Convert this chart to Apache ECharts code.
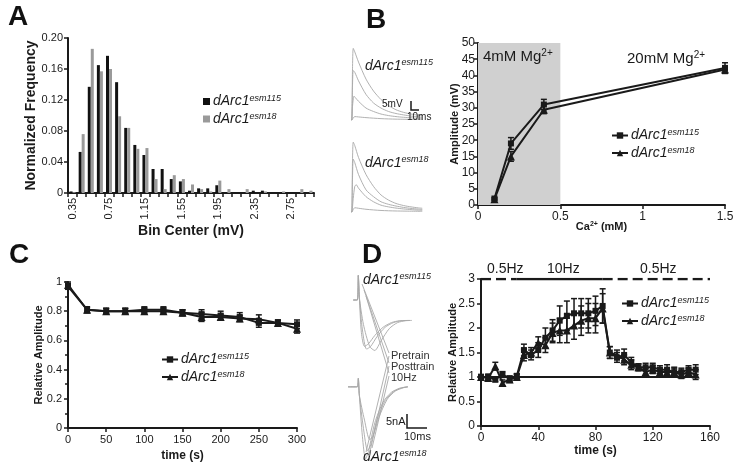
<!DOCTYPE html>
<html><head><meta charset="utf-8">
<script src="https://cdn.jsdelivr.net/npm/echarts@6/dist/echarts.min.js"></script>
<style>html,body{margin:0;padding:0;background:#fff}#c{width:745px;height:473px}</style>
</head><body><div id="c"></div>
<script>
// ---------- Panel A: amplitude histogram ----------
const binCenters = ['0.35','0.45','0.55','0.65','0.75','0.85','0.95','1.05','1.15','1.25','1.35','1.45','1.55','1.65','1.75','1.85','1.95','2.05','2.15','2.25','2.35','2.45','2.55','2.65','2.75','2.85','2.95'];
const histEsm115 = [0.002,0.053,0.137,0.165,0.177,0.143,0.084,0.062,0.049,0.031,0.031,0.018,0.015,0.003,0.006,0.006,0.010,0,0,0,0.003,0.003,0,0,0,0,0];
const histEsm18  = [0.001,0.076,0.186,0.157,0.160,0.099,0.084,0.057,0.058,0.018,0.005,0.023,0.018,0.011,0.005,0.002,0.016,0.005,0,0.005,0,0.002,0,0.002,0,0.005,0.003];

// ---------- Panel B: Ca2+ dependence ----------
const caConc = [0.1, 0.2, 0.4, 1.5];
const ampEsm115 = [2.0, 19.0, 31.0, 42.3];
const ampEsm115Err = [0.3, 1.8, 1.6, 1.6];
const ampEsm18 = [1.8, 15.0, 29.4, 41.8];
const ampEsm18Err = [0.3, 1.5, 1.2, 1.2];
// example EPSP traces [ms, mV]
const epspTop = [
  [[0,0],[1,0],[2,30],[3,42],[5,40],[10,34],[20,24],[30,17],[40,12],[50,8.5],[60,6],[70,4.5],[80,3.5],[90,2.8],[95,2.5]],
  [[0,0],[1,0],[2,20],[3,29],[5,28],[10,23],[20,15],[30,10],[40,7],[50,5],[60,3.8],[70,3],[80,2.3],[90,1.8],[95,1.6]],
  [[0,0],[1,0],[2,8],[4,14],[6,13],[10,11],[20,7],[30,5],[40,3.5],[50,2.6],[60,2],[70,1.6],[80,1.3],[90,1],[95,1]],
  [[0,0],[1,0],[3,1.2],[5,2],[10,1.8],[20,1.4],[40,0.8],[60,0.5],[95,0.3]]
];
const epspBottom = [
  [[0,0],[1,0],[2,30],[3,41],[5,39],[10,32],[20,22],[30,15],[40,10],[50,7],[60,5],[70,3.8],[80,3],[90,2.4],[95,2.2]],
  [[0,0],[1,0],[2,20],[3,31],[5,29],[10,22],[20,13],[30,9],[40,6],[50,4.5],[60,3.5],[70,2.7],[80,2.1],[90,1.7],[95,1.5]],
  [[0,0],[1,0],[3,8],[5,15],[7,16],[10,14],[20,9],[30,6],[40,4],[50,3],[60,2.3],[70,1.8],[80,1.4],[90,1.1],[95,1]],
  [[0,0],[1,0],[3,1.5],[5,2.5],[10,2.2],[20,1.6],[40,0.9],[60,0.6],[95,0.4]]
];

// ---------- Panel C: low-frequency rundown ----------
const timeC = [0,25,50,75,100,125,150,175,200,225,250,275,300];
const relEsm115 = [0.97,0.81,0.80,0.80,0.81,0.81,0.79,0.78,0.77,0.76,0.72,0.72,0.71];
const relEsm115Err = [0.02,0.02,0.02,0.02,0.02,0.02,0.02,0.03,0.03,0.03,0.03,0.02,0.03];
const relEsm18 = [0.98,0.81,0.80,0.80,0.80,0.80,0.79,0.76,0.76,0.75,0.745,0.72,0.68];
const relEsm18Err = [0.02,0.02,0.02,0.02,0.02,0.02,0.02,0.03,0.02,0.02,0.03,0.02,0.03];

// ---------- Panel D: 10 Hz train ----------
const timeD = [0,5,10,15,20,25,30,35,40,45,50,55,60,65,70,75,80,85,90,95,100,105,110,115,120,125,130,135,140,145,150];
const trainEsm115 = [1.0,1.0,0.95,1.05,0.97,1.02,1.55,1.45,1.55,1.8,1.95,2.15,2.25,2.3,2.3,2.3,2.35,2.45,1.5,1.4,1.45,1.3,1.2,1.2,1.2,1.15,1.15,1.1,1.1,1.15,1.15];
const trainEsm115Err = [0.05,0.06,0.05,0.06,0.05,0.05,0.12,0.1,0.15,0.2,0.22,0.3,0.3,0.3,0.3,0.3,0.3,0.35,0.12,0.1,0.12,0.1,0.07,0.08,0.08,0.08,0.1,0.1,0.08,0.08,0.1];
const trainEsm18 = [1.0,0.98,1.22,0.88,0.95,1.0,1.45,1.5,1.7,1.65,1.9,1.95,1.95,2.05,2.15,2.2,2.2,2.4,1.5,1.45,1.35,1.25,1.2,1.1,1.15,1.1,1.1,1.1,1.05,1.1,1.05];
const trainEsm18Err = [0.05,0.06,0.08,0.06,0.06,0.05,0.12,0.1,0.12,0.15,0.2,0.25,0.25,0.28,0.3,0.3,0.3,0.3,0.12,0.1,0.1,0.1,0.07,0.08,0.08,0.08,0.08,0.08,0.08,0.08,0.1];
const baselineD = [[0,1],[150,1]];
const stimPhases = [ {from:0, to:25, type:'dashed'}, {from:25, to:85, type:'solid'}, {from:85, to:160, type:'dashed'} ];
const stimLevel = 3;
// example EPSC traces [ms, nA]
const epscTop = [
  [[2.5,0],[4.5,0],[5,9],[5.5,1],[6.5,-12],[8,-17],[10,-16],[13,-13],[17,-10],[21,-8.3],[25,-7.6],[30,-7.5]],
  [[2.5,0],[4.5,0],[5,9],[5.5,1],[7,-11],[9,-18],[11,-17],[14,-13.5],[18,-10],[22,-8.3],[26,-7.6],[30,-7.5]],
  [[2.5,0],[4.5,0],[5,9],[5.5,1],[7.5,-9],[10.5,-17],[13,-18.5],[16,-15],[20,-10.5],[24,-8.3],[28,-7.6],[31,-7.5]]
];
const epscBottom = [
  [[0,0],[4.5,0],[5,3],[5.5,-3],[7,-18],[8.5,-26],[10,-23],[13,-13],[17,-5.5],[21,-2],[25,-0.5],[29,0]],
  [[0,0],[4.5,0],[5,3],[5.5,-3],[7.5,-15],[9.5,-23],[11,-21],[14,-12],[18,-5],[22,-1.8],[26,-0.4],[29,0]],
  [[0,0],[4.5,0],[5,3],[5.5,-3],[8,-12],[10.5,-19],[12,-18],[15,-11],[19,-4.5],[23,-1.5],[27,-0.3],[29,0]]
];

const FONT = 'Liberation Sans, Arial, Helvetica, sans-serif';
const INK = '#1a1a1a';
const TRACE = '#a8a8a8';
const legendNames = {A115:'esm115', A18:'esm18', B115:'esm115', B18:'esm18', C115:'esm115', C18:'esm18', D115:'esm115', D18:'esm18'};
const rich = {
  i: {fontFamily: FONT, fontStyle:'italic', fontSize:14, color: INK},
  s: {fontFamily: FONT, fontStyle:'italic', fontSize:9, color: INK, verticalAlign:'top', padding:[0,0,6,0]}
};
function legendFmt(n){ return '{i|dArc1}{s|' + legendNames[n] + '}'; }

function axisCommon(fs, mg){
  return {
    axisLine: {show:true, lineStyle:{color:INK, width:2}},
    axisTick: {show:true, length:4, lineStyle:{color:INK, width:1.5}},
    axisLabel: {color:INK, fontFamily:FONT, fontSize:fs, margin:mg===undefined?6:mg},
    splitLine: {show:false},
    nameMoveOverlap: false
  };
}
function errSeries(name, xi, yi, xs, ys, es){
  return {
    name: name, type:'custom', xAxisIndex:xi, yAxisIndex:yi, z:3,
    encode:{x:0, y:[1,2]},
    data: xs.map((x,i)=>[x, ys[i]-es[i], ys[i]+es[i]]),
    renderItem: function(params, api){
      const lo = api.coord([api.value(0), api.value(1)]);
      const hi = api.coord([api.value(0), api.value(2)]);
      const w = 3;
      const st = {stroke:INK, lineWidth:1.5};
      return {type:'group', children:[
        {type:'line', shape:{x1:lo[0], y1:lo[1], x2:hi[0], y2:hi[1]}, style:st},
        {type:'line', shape:{x1:lo[0]-w, y1:lo[1], x2:lo[0]+w, y2:lo[1]}, style:st},
        {type:'line', shape:{x1:hi[0]-w, y1:hi[1], x2:hi[0]+w, y2:hi[1]}, style:st}
      ]};
    }
  };
}
function lineSeries(name, xi, yi, xs, ys, sym){
  return {
    name:name, type:'line', xAxisIndex:xi, yAxisIndex:yi, z:4,
    data: xs.map((x,i)=>[x, ys[i]]),
    symbol: sym, symbolSize: sym==='triangle'?8:6,
    lineStyle:{color:INK, width:2}, itemStyle:{color:INK},
    animation:false
  };
}
function traceSeries(xi, yi, pts){
  return {type:'line', xAxisIndex:xi, yAxisIndex:yi, data:pts, symbol:'none', smooth:0.25,
    lineStyle:{color:TRACE, width:0.9}, silent:true, animation:false};
}

const grids = [
  {left:68, top:38, width:246, height:155},   //0 A
  {left:478, top:43, width:247, height:162},  //1 B
  {left:68, top:282, width:229, height:146},  //2 C
  {left:481, top:279, width:229, height:147}, //3 D
  {left:351, top:45, width:75, height:75},    //4 B traces top
  {left:351, top:137, width:75, height:75},   //5 B traces bottom
  {left:348, top:270, width:66, height:90},   //6 D traces top
  {left:348, top:330, width:66, height:140}   //7 D traces bottom
];
const boldName = (fs) => ({fontFamily:FONT, fontWeight:'bold', fontSize:fs, color:INK});
const xAxes = [
  Object.assign(axisCommon(11), {gridIndex:0, type:'category', data:binCenters, boundaryGap:true,
    axisTick:{show:true, length:4, interval:0, lineStyle:{color:INK,width:1.5}},
    axisLabel:{color:INK, fontFamily:FONT, fontSize:11, rotate:90, interval:3, margin:5},
    name:'Bin Center (mV)', nameLocation:'middle', nameGap:31, nameTextStyle:boldName(14)}),
  Object.assign(axisCommon(12), {gridIndex:1, type:'value', min:0, max:1.5, interval:0.5,
    name:'{b|Ca}{bs|2+}{b| (mM)}', nameLocation:'middle', nameGap:16,
    nameTextStyle:{rich:{b:boldName(11), bs:{fontFamily:FONT, fontWeight:'bold', fontSize:7, color:INK, verticalAlign:'top', padding:[0,0,5,0]}}}}),
  Object.assign(axisCommon(11), {gridIndex:2, type:'value', min:0, max:300, interval:50,
    name:'time (s)', nameLocation:'middle', nameGap:22, nameTextStyle:boldName(12)}),
  Object.assign(axisCommon(12), {gridIndex:3, type:'value', min:0, max:160, interval:40,
    name:'time (s)', nameLocation:'middle', nameGap:19, nameTextStyle:boldName(12)}),
  {gridIndex:4, type:'value', min:0, max:100, show:false},
  {gridIndex:5, type:'value', min:0, max:100, show:false},
  {gridIndex:6, type:'value', min:0, max:32, show:false},
  {gridIndex:7, type:'value', min:0, max:32, show:false}
];
const yAxes = [
  Object.assign(axisCommon(11), {gridIndex:0, type:'value', min:0, max:0.2, interval:0.04,
    axisLabel:{color:INK, fontFamily:FONT, fontSize:11, margin:5, formatter:v=>v===0?'0':v.toFixed(2)},
    name:'Normalized Frequency', nameLocation:'middle', nameGap:30, nameTextStyle:boldName(14)}),
  Object.assign(axisCommon(12, 3), {gridIndex:1, type:'value', min:0, max:50, interval:5,
    name:'Amplitude (mV)', nameLocation:'middle', nameGap:18, nameTextStyle:boldName(11)}),
  Object.assign(axisCommon(11), {gridIndex:2, type:'value', min:0, max:1, interval:0.2,
    minorTick:{show:true, splitNumber:2, length:3, lineStyle:{color:INK, width:1.5}},
    name:'Relative Amplitude', nameLocation:'middle', nameGap:24, nameTextStyle:boldName(11)}),
  Object.assign(axisCommon(12), {gridIndex:3, type:'value', min:0, max:3, interval:0.5,
    name:'Relative Amplitude', nameLocation:'middle', nameGap:23, nameTextStyle:boldName(11)}),
  {gridIndex:4, type:'value', min:0, max:44, show:false},
  {gridIndex:5, type:'value', min:0, max:44, show:false},
  {gridIndex:6, type:'value', min:-22, max:11, show:false},
  {gridIndex:7, type:'value', min:-30, max:20.5, show:false}
];

const series = [
  {name:'A115', type:'bar', xAxisIndex:0, yAxisIndex:0, data:histEsm115, barWidth:3, barGap:'0%', itemStyle:{color:'#111'}, animation:false},
  {name:'A18', type:'bar', xAxisIndex:0, yAxisIndex:0, data:histEsm18, barWidth:3, barGap:'0%', itemStyle:{color:'#9a9a9a'}, animation:false},
  Object.assign(lineSeries('B115', 1, 1, caConc, ampEsm115, 'rect'), {
    markArea:{silent:true, itemStyle:{color:'#d0d0d0'}, data:[[{xAxis:0},{xAxis:0.5}]]}}),
  lineSeries('B18', 1, 1, caConc, ampEsm18, 'triangle'),
  errSeries('B115', 1, 1, caConc, ampEsm115, ampEsm115Err),
  errSeries('B18', 1, 1, caConc, ampEsm18, ampEsm18Err),
  lineSeries('C115', 2, 2, timeC, relEsm115, 'rect'),
  lineSeries('C18', 2, 2, timeC, relEsm18, 'triangle'),
  errSeries('C115', 2, 2, timeC, relEsm115, relEsm115Err),
  errSeries('C18', 2, 2, timeC, relEsm18, relEsm18Err),
  {type:'line', xAxisIndex:3, yAxisIndex:3, data:baselineD, symbol:'none', lineStyle:{color:INK, width:2}, animation:false, silent:true},
  lineSeries('D115', 3, 3, timeD, trainEsm115, 'rect'),
  lineSeries('D18', 3, 3, timeD, trainEsm18, 'triangle'),
  errSeries('D115', 3, 3, timeD, trainEsm115, trainEsm115Err),
  errSeries('D18', 3, 3, timeD, trainEsm18, trainEsm18Err)
];
stimPhases.forEach(p => series.push({type:'line', xAxisIndex:3, yAxisIndex:3, symbol:'none', silent:true, animation:false,
  data:[[p.from, stimLevel],[p.to, stimLevel]], lineStyle:{color:INK, width:2.5, type:p.type==='dashed'?[10,5]:'solid'}}));
epspTop.forEach(t => series.push(traceSeries(4, 4, t)));
epspBottom.forEach(t => series.push(traceSeries(5, 5, t)));
epscTop.forEach(t => series.push(traceSeries(6, 6, t)));
epscBottom.forEach(t => series.push(traceSeries(7, 7, t)));

function legendFor(names, left, top, icons){
  return {show:true, orient:'vertical', left:left, top:top, itemGap:3, itemWidth:icons?7:16, itemHeight:icons?7:8,
    data: names.map(n=> icons ? {name:n, icon:'rect'} : {name:n}),
    formatter: legendFmt, textStyle:{rich:rich, padding:[0,0,0,-2]}, selectedMode:false};
}

const T = (text, x, y) => ({type:'text', left:x, top:y, z:100, style:{text:text, font:'bold 28px '+FONT, fill:'#111'}});
const supText = (base, sup, x, y, size, ssize, italic) => ({type:'text', left:x, top:y, z:100,
  style:{text:'{a|'+base+'}{b|'+sup+'}', rich:{a:{fontFamily:FONT, fontStyle:italic?'italic':'normal', fontSize:size, fill:INK}, b:{fontFamily:FONT, fontStyle:italic?'italic':'normal', fontSize:ssize, fill:INK, verticalAlign:'top', padding:[0,0,size*0.45,0]}}}});
const leader = (pts) => ({type:'polyline', z:100, shape:{points:pts}, style:{stroke:TRACE, lineWidth:0.9, fill:null}});

const graphic = [
  T('A', 8, 3), T('B', 366, 6), T('C', 9, 241), T('D', 362, 241),
  supText('4mM Mg', '2+', 483, 48, 15, 10, false),
  supText('20mM Mg', '2+', 627, 50, 15, 10, false),
  supText('dArc1', 'esm115', 365, 58, 14, 9, true),
  supText('dArc1', 'esm18', 365, 155, 14, 9, true),
  supText('dArc1', 'esm115', 363, 272, 14, 9, true),
  supText('dArc1', 'esm18', 363, 449, 14, 9, true),
  {type:'text', left:382, top:99, z:100, style:{text:'5mV', font:'10px '+FONT, fill:INK}},
  {type:'text', left:407, top:112, z:100, style:{text:'10ms', font:'10px '+FONT, fill:INK}},
  {type:'polyline', z:100, shape:{points:[[411,101],[411,110],[419,110]]}, style:{stroke:INK, lineWidth:1.5, fill:null}},
  leader([[362,284],[389,353]]), leader([[364,290],[389,363]]), leader([[366,296],[389,373]]),
  leader([[366,452],[389,356]]), leader([[369,456],[389,366]]), leader([[372,448],[389,376]]),
  {type:'text', left:391, top:350, z:100, style:{text:'Pretrain\nPosttrain\n10Hz', font:'11px '+FONT, fill:'#333', lineHeight:11}},
  {type:'text', left:386, top:416, z:100, style:{text:'5nA', font:'11px '+FONT, fill:INK}},
  {type:'text', left:404, top:431, z:100, style:{text:'10ms', font:'11px '+FONT, fill:INK}},
  {type:'polyline', z:100, shape:{points:[[407,414],[407,428],[427,428]]}, style:{stroke:INK, lineWidth:1.5, fill:null}},
  {type:'text', left:487, top:262, z:100, style:{text:'0.5Hz', font:'14px '+FONT, fill:INK}},
  {type:'text', left:547, top:262, z:100, style:{text:'10Hz', font:'14px '+FONT, fill:INK}},
  {type:'text', left:640, top:262, z:100, style:{text:'0.5Hz', font:'14px '+FONT, fill:INK}}
];

const chart = echarts.init(document.getElementById('c'), null, {renderer:'canvas'});
chart.setOption({
  animation:false,
  textStyle:{fontFamily:FONT},
  grid: grids, xAxis: xAxes, yAxis: yAxes, series: series,
  legend: [
    legendFor(['A115','A18'], 198, 89, true),
    legendFor(['B115','B18'], 606, 123, false),
    legendFor(['C115','C18'], 156, 347, false),
    legendFor(['D115','D18'], 616, 291, false)
  ],
  graphic: graphic
});
</script></body></html>
